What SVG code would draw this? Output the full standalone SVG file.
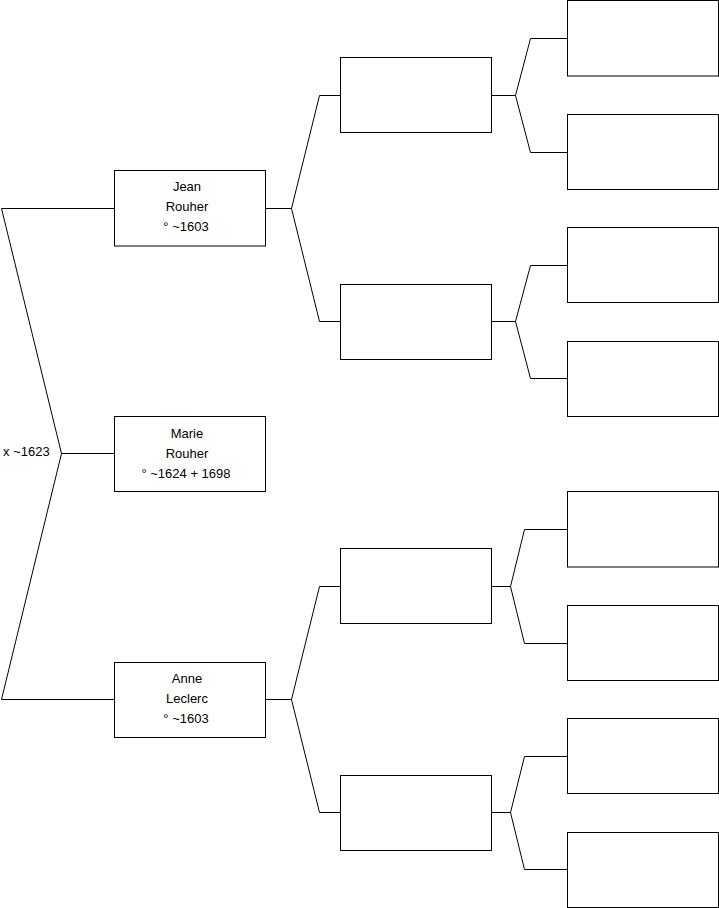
<svg xmlns="http://www.w3.org/2000/svg" width="719" height="908" viewBox="0 0 719 908">
<style>
.box{fill:#fff;stroke:#000;stroke-width:1}
.ln{fill:none;stroke:#000;stroke-width:1}
text{font-family:"Liberation Sans",Arial,sans-serif;font-size:13px;fill:#000}
.c{text-anchor:middle}
</style>
<rect width="719" height="908" fill="#fff"/>
<g id="connectors">
<path class="ln" d="M114 208.5H1.5L61.5 453.5L1.5 699.5H114"/>
<path class="ln" d="M61.5 453.5H114"/>
<path class="ln" d="M265 208.5H291.5L319.5 95.5H341 M291.5 208.5L319.5 321.5H341"/>
<path class="ln" d="M265 699.5H291.5L319.5 586.5H341 M291.5 699.5L319.5 812.5H341"/>
<path class="ln" d="M491 95.5H515.5L530.5 38.5H568 M515.5 95.5L530.5 152.5H568"/>
<path class="ln" d="M491 321.5H515.5L530.5 265.5H568 M515.5 321.5L530.5 378.5H568"/>
<path class="ln" d="M491 586.5H510.5L524.5 529.5H568 M510.5 586.5L524.5 643.5H568"/>
<path class="ln" d="M491 812.5H510.5L524.5 756.5H568 M510.5 812.5L524.5 869.5H568"/>
</g>
<text x="3" y="456">x ~1623</text>
<g id="jean"><rect class="box" x="114.5" y="170.5" width="151" height="75.5"/>
<text class="c" x="187" y="191">Jean</text><text class="c" x="187" y="211">Rouher</text><text class="c" x="186" y="231">° ~1603</text></g>
<g id="marie"><rect class="box" x="114.5" y="416.5" width="151" height="75"/>
<text class="c" x="187" y="438">Marie</text><text class="c" x="187" y="458">Rouher</text><text class="c" x="186" y="478">° ~1624 + 1698</text></g>
<g id="anne"><rect class="box" x="114.5" y="662.5" width="151" height="75"/>
<text class="c" x="187" y="682.5">Anne</text><text class="c" x="187" y="702.5">Leclerc</text><text class="c" x="186" y="722.5">° ~1603</text></g>
<g id="g2a"><rect class="box" x="340.5" y="57.5" width="151" height="75"/></g>
<g id="g2b"><rect class="box" x="340.5" y="284.5" width="151" height="75"/></g>
<g id="g2c"><rect class="box" x="340.5" y="548.5" width="151" height="75"/></g>
<g id="g2d"><rect class="box" x="340.5" y="775.5" width="151" height="75"/></g>
<g id="g3a"><rect class="box" x="567.5" y="0.5" width="151" height="75.5"/></g>
<g id="g3b"><rect class="box" x="567.5" y="114.5" width="151" height="75"/></g>
<g id="g3c"><rect class="box" x="567.5" y="227.5" width="151" height="75"/></g>
<g id="g3d"><rect class="box" x="567.5" y="341.5" width="151" height="75"/></g>
<g id="g3e"><rect class="box" x="567.5" y="491.5" width="151" height="75.5"/></g>
<g id="g3f"><rect class="box" x="567.5" y="605.5" width="151" height="75"/></g>
<g id="g3g"><rect class="box" x="567.5" y="718.5" width="151" height="75"/></g>
<g id="g3h"><rect class="box" x="567.5" y="832.5" width="151" height="75"/></g>
</svg>
